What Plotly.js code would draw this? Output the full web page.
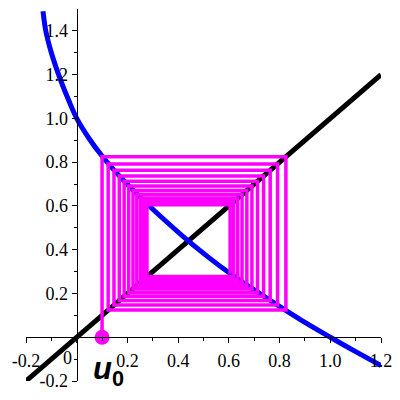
<!DOCTYPE html>
<html><head><meta charset="utf-8">
<script src="https://cdn.plot.ly/plotly-3.0.1.min.js"></script>
<style>html,body{margin:0;padding:0;background:#fff}</style>
</head><body><div id="chart" style="width:400px;height:400px"></div>
<script>
// Blue curve f(x)
const curveX = [-0.133, -0.122, -0.100, -0.062, -0.030, 0.000, 0.050, 0.100, 0.150, 0.200, 0.250, 0.300, 0.440, 0.520, 0.605, 0.691, 0.792, 0.900, 1.000, 1.100, 1.200];
const curveY = [1.490, 1.400, 1.300, 1.170, 1.078, 1.000, 0.906, 0.828, 0.760, 0.698, 0.640, 0.585, 0.440, 0.365, 0.291, 0.223, 0.147, 0.068, 0.000, -0.066, -0.130];
// Black line y = x
const diagX = [-0.2, 1.2];
const diagY = [-0.2, 1.2];
// Sequence u_n read from the cobweb
const u = [0.100, 0.825, 0.124, 0.792, 0.147, 0.763, 0.168, 0.737, 0.187, 0.713, 0.205, 0.691, 0.222, 0.671, 0.237, 0.652, 0.252, 0.635, 0.265, 0.619, 0.277, 0.605, 0.290];
// Ticks
const xTickVals = [-0.2, 0, 0.2, 0.4, 0.6, 0.8, 1.0, 1.2];
const xTickText = ['-0.2', ' ', '0.2', '0.4', '0.6', '0.8', '1.0', '1.2'];
const xMinorVals = [-0.1, 0.1, 0.3, 0.5, 0.7, 0.9, 1.1];
const yTickVals = [-0.2, 0, 0.2, 0.4, 0.6, 0.8, 1.0, 1.2, 1.4];
const yTickText = ['-0.2', ' ', '0.2', '0.4', '0.6', '0.8', '1.0', '1.2', '1.4'];
const yMinorVals = [-0.1, 0.1, 0.3, 0.5, 0.7, 0.9, 1.1, 1.3];
const originLabel = '0';
const seqLabel = '<b><i>u</i><sub>0</sub></b>';

// cobweb path built from u
const cx = [u[0]], cy = [0];
for (let i = 0; i < u.length - 1; i++) {
  cx.push(u[i]); cy.push(u[i + 1]);
  if (i + 1 < u.length - 1) { cx.push(u[i + 1]); cy.push(u[i + 1]); }
}

const serif = 'Liberation Serif';
const traces = [
  {x: diagX, y: diagY, mode: 'lines', line: {color: '#000000', width: 5}, hoverinfo: 'skip'},
  {x: curveX, y: curveY, mode: 'lines', line: {color: '#0000ff', width: 5, shape: 'spline', smoothing: 0.8}, hoverinfo: 'skip'},
  {x: cx, y: cy, mode: 'lines', line: {color: '#ff00ff', width: 3.5}, hoverinfo: 'skip'},
  {x: [u[0]], y: [0], mode: 'markers', marker: {color: '#ff00ff', size: 15}, hoverinfo: 'skip'}
];

function axis(extra) {
  return Object.assign({
    anchor: 'free', showline: true, linecolor: '#000', linewidth: 1,
    ticks: 'outside', ticklen: 5, tickwidth: 1, tickcolor: '#000',
    tickmode: 'array', showgrid: false, zeroline: false,
    tickfont: {family: serif, size: 18, color: '#000'}
  }, extra);
}

const layout = {
  width: 400, height: 400,
  margin: {l: 26, r: 19, t: 9, b: 19},
  paper_bgcolor: '#fff', plot_bgcolor: '#fff',
  font: {family: serif, size: 18, color: '#000'},
  showlegend: false,
  xaxis: axis({
    range: [-0.2, 1.2], position: 0.2 / 1.7,
    tickvals: xTickVals, ticktext: xTickText, ticklabelstandoff: 2,
    minor: {tickmode: 'array', tickvals: xMinorVals, ticks: 'outside', ticklen: 3, tickcolor: '#000', showgrid: false}
  }),
  yaxis: axis({
    range: [-0.2, 1.5], position: 0.2 / 1.4,
    tickvals: yTickVals, ticktext: yTickText,
    minor: {tickmode: 'array', tickvals: yMinorVals, ticks: 'outside', ticklen: 3, tickcolor: '#000', showgrid: false}
  }),
  annotations: [
    {x: -0.038, y: -0.095, xref: 'x', yref: 'y', text: originLabel, showarrow: false,
     font: {family: serif, size: 18, color: '#000'}},
    {x: 0.124, y: -0.155, xref: 'x', yref: 'y', text: seqLabel, showarrow: false,
     font: {family: 'Liberation Sans', size: 31, color: '#000'}}
  ]
};

Plotly.newPlot('chart', traces, layout, {displayModeBar: false, staticPlot: true});
</script>
</body></html>
